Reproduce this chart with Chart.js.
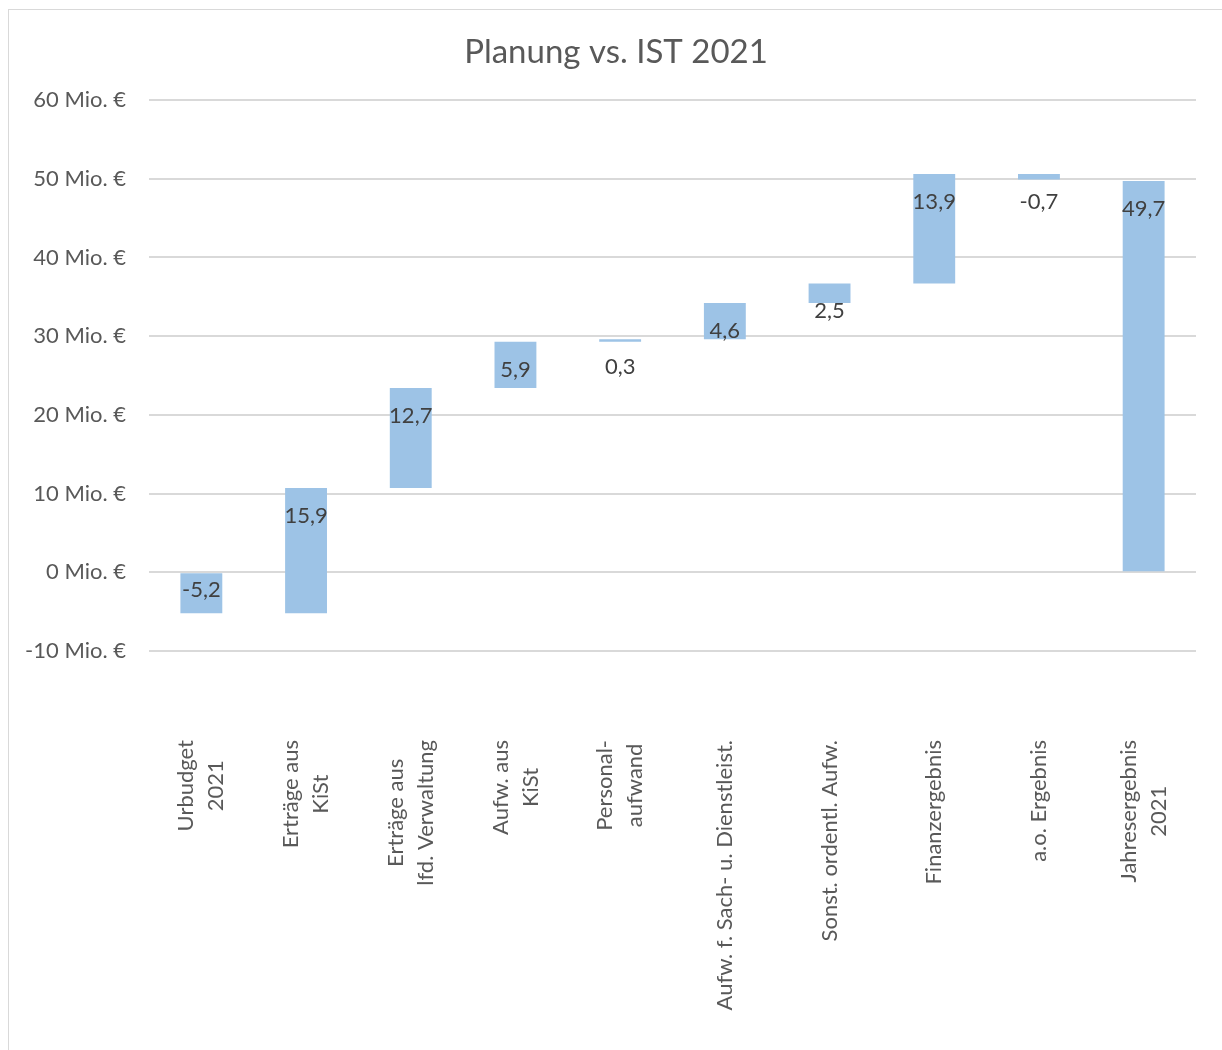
<!DOCTYPE html>
<html lang="de">
<head>
<meta charset="utf-8">
<title>Planung vs. IST 2021</title>
<script src="https://cdn.jsdelivr.net/npm/chart.js@4/dist/chart.umd.min.js"></script>
<style>
  html, body { margin: 0; padding: 0; background: #fff; overflow: hidden; }
  #frame {
    position: absolute; left: 8px; top: 9px;
    width: 1240px; height: 1070px;
    border: 1px solid #D9D9D9;
  }
  #wrap { position: absolute; left: 0; top: 0; width: 1222px; height: 1050px; }
</style>
</head>
<body>
<div id="frame"></div>
<div id="wrap"><canvas id="chart"></canvas></div>
<script>
/* ── Daten ───────────────────────────────────────── */
const chartTitle = 'Planung vs. IST 2021';
const categories = [
  ['Urbudget', '2021'],
  ['Erträge aus', 'KiSt'],
  ['Erträge aus', 'lfd. Verwaltung'],
  ['Aufw. aus', 'KiSt'],
  ['Personal-', 'aufwand'],
  ['Aufw. f. Sach- u. Dienstleist.'],
  ['Sonst. ordentl. Aufw.'],
  ['Finanzergebnis'],
  ['a.o. Ergebnis'],
  ['Jahresergebnis', '2021']
];
// Veränderungen in Mio. €; letzter Wert = Summe (Balken ab 0)
const deltas = [-5.2, 15.9, 12.7, 5.9, 0.3, 4.6, 2.5, 13.9, -0.7];
const total = 49.7;
const yTicks = [-10, 0, 10, 20, 30, 40, 50, 60];

/* ── Wasserfall-Spannen aus den Daten ─────────────── */
const spans = [];
let run = 0;
deltas.forEach(d => {
  spans.push([run, run + d]);
  run += d;
});
spans.push([0, total]);
const labelValues = deltas.concat([total]);

const FONT = 'Lato, "Open Sans", sans-serif';
const TEXT = '#595959';

/* Datenbeschriftungen wie in Excel */
const valueLabels = {
  id: 'valueLabels',
  afterDatasetsDraw(chart) {
    const { ctx } = chart;
    const meta = chart.getDatasetMeta(0);
    ctx.save();
    ctx.font = '22px ' + FONT;
    ctx.fillStyle = '#404040';
    ctx.textAlign = 'center';
    ctx.textBaseline = 'middle';
    meta.data.forEach((bar, i) => {
      const top = Math.min(bar.y, bar.base);
      const bottom = Math.max(bar.y, bar.base);
      const s = spans[i];
      let y = top + 28;
      if (Math.max(s[0], s[1]) <= 0) y = (top + bottom) / 2 - 3;
      ctx.fillText(labelValues[i].toFixed(1).replace('.', ','), bar.x, y);
    });
    ctx.restore();
  }
};

/* Titel + Kategorienbeschriftung (90° gedreht, Zeilen zentriert) */
const textLayer = {
  id: 'textLayer',
  afterDraw(chart) {
    const { ctx } = chart;
    const xs = chart.scales.x;
    const yTop = chart.chartArea.bottom + 89;
    const lineGap = 30;
    ctx.save();
    ctx.fillStyle = TEXT;
    ctx.textAlign = 'center';
    ctx.textBaseline = 'middle';

    ctx.font = '33px ' + FONT;
    ctx.fillText(chartTitle, chart.width / 2 + 5, 52);

    ctx.font = '22px ' + FONT;
    categories.forEach((lines, i) => {
      const x = xs.getPixelForTick(i);
      const w = Math.max(...lines.map(l => ctx.measureText(l).width));
      ctx.save();
      ctx.translate(x, yTop + w / 2);
      ctx.rotate(-Math.PI / 2);
      lines.forEach((l, j) => {
        ctx.fillText(l, 0, (j - (lines.length - 1) / 2) * lineGap);
      });
      ctx.restore();
    });
    ctx.restore();
  }
};

new Chart(document.getElementById('chart'), {
  type: 'bar',
  data: {
    labels: categories.map(c => c.join(' ')),
    datasets: [{
      data: spans,
      backgroundColor: '#9DC3E6',
      borderWidth: 0,
      categoryPercentage: 1,
      barPercentage: 0.4
    }]
  },
  plugins: [valueLabels, textLayer],
  options: {
    responsive: true,
    maintainAspectRatio: false,
    animation: false,
    layout: { padding: { left: 3, right: 26, top: 100, bottom: 399 } },
    plugins: {
      legend: { display: false },
      tooltip: { enabled: false },
      title: { display: false }
    },
    scales: {
      x: {
        grid: { display: false, drawTicks: false },
        border: { display: false },
        ticks: { display: false }
      },
      y: {
        min: -10,
        max: 60,
        afterBuildTicks: axis => { axis.ticks = yTicks.map(v => ({ value: v })); },
        afterFit: axis => { axis.width = 146; },
        grid: { color: '#D9D9D9', lineWidth: 2, drawTicks: false },
        border: { display: false },
        ticks: {
          color: TEXT,
          font: { family: FONT, size: 22 },
          padding: 23,
          callback: v => v + ' Mio. €'
        }
      }
    }
  }
});
</script>
</body>
</html>
